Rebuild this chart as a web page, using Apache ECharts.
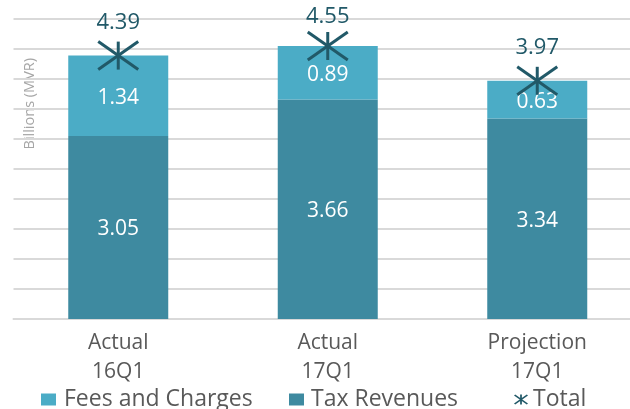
<!DOCTYPE html>
<html><head><meta charset="utf-8">
<script src="https://cdn.jsdelivr.net/npm/echarts@6/dist/echarts.min.js"></script>
<style>html,body{margin:0;padding:0;background:#fff}#c{width:630px;height:409px}</style>
</head><body><div id="c"></div>
<script>
const categories = ['Actual\n16Q1', 'Actual\n17Q1', 'Projection\n17Q1'];
const feesAndCharges = [1.34, 0.89, 0.63];
const taxRevenues = [3.05, 3.66, 3.34];
const totals = [4.39, 4.55, 3.97];

const FONT = 'Open Sans';
const C_FEES = '#4BACC6';
const C_TAX = '#3E8AA0';
const C_TOTAL = '#215968';
const starIcon = 'path://M17.5,0 L22.5,0 L22.5,28 L17.5,28 Z M0,2.5 L3.5,0 L40,25.5 L36.5,28 Z M36.5,0 L40,2.5 L3.5,28 L0,25.5 Z';
const squareIcon = 'path://M0,0 L15,0 L15,12 L0,12 Z';

const chart = echarts.init(document.getElementById('c'), null, {renderer: 'canvas'});
const legendBase = {
  top: 388, padding: 0, itemGap: 0, symbolKeepAspect: true,
  textStyle: {fontFamily: FONT, fontSize: 23, color: '#595959'}
};
chart.setOption({
  animation: false,
  textStyle: {fontFamily: FONT},
  grid: {left: 13.5, width: 628.5, top: 19, bottom: 90, containLabel: false, outerBoundsMode: 'none'},
  legend: [
    Object.assign({}, legendBase, {left: 41, itemWidth: 21, itemHeight: 12, data: [{name: 'Fees and Charges', icon: squareIcon}]}),
    Object.assign({}, legendBase, {left: 289, itemWidth: 19, itemHeight: 12, data: [{name: 'Tax Revenues', icon: squareIcon}]}),
    Object.assign({}, legendBase, {left: 514, itemWidth: 14, itemHeight: 10, data: [{name: 'Total', icon: starIcon}]})
  ],
  xAxis: {
    type: 'category', data: categories,
    axisLine: {lineStyle: {color: '#D9D9D9', width: 2}},
    axisTick: {show: false},
    axisLabel: {fontFamily: FONT, fontSize: 21, color: '#595959', lineHeight: 29, margin: 10}
  },
  yAxis: {
    type: 'value', min: 0, max: 5, interval: 0.5,
    axisLabel: {show: false}, axisLine: {show: false}, axisTick: {show: false},
    splitLine: {lineStyle: {color: '#D9D9D9', width: 2}}
  },
  graphic: [{
    type: 'text', left: 22, top: 58, rotation: Math.PI / 2,
    style: {text: 'Billions (MVR)', fontFamily: FONT, fontSize: 14.5, fill: '#A6A6A6'}
  }],
  series: [
    {
      name: 'Tax Revenues', type: 'bar', stack: 'a', barWidth: 100, data: taxRevenues,
      itemStyle: {color: C_TAX},
      label: {show: true, position: 'inside', offset: [0, 2], color: '#fff', fontFamily: FONT, fontSize: 21,
        formatter: p => p.value.toFixed(2)}
    },
    {
      name: 'Fees and Charges', type: 'bar', stack: 'a', barWidth: 100, data: feesAndCharges,
      itemStyle: {color: C_FEES},
      label: {show: true, position: 'inside', offset: [0, 2], color: '#fff', fontFamily: FONT, fontSize: 21,
        formatter: p => p.value.toFixed(2)}
    },
    {
      name: 'Total', type: 'custom', data: totals.map((v, i) => [i, v]),
      itemStyle: {color: C_TOTAL},
      z: 5,
      renderItem: function (params, api) {
        const p = api.coord([api.value(0), api.value(1)]);
        const hw = 20, hh = 14;
        const st = {stroke: C_TOTAL, lineWidth: 3};
        return {
          type: 'group',
          children: [
            {type: 'line', shape: {x1: p[0], y1: p[1] - hh, x2: p[0], y2: p[1] + hh}, style: st},
            {type: 'line', shape: {x1: p[0] - hw, y1: p[1] - hh, x2: p[0] + hw, y2: p[1] + hh}, style: st},
            {type: 'line', shape: {x1: p[0] - hw, y1: p[1] + hh, x2: p[0] + hw, y2: p[1] - hh}, style: st},
            {type: 'text', x: p[0], y: Math.max(p[1] - 33, 17),
              style: {text: api.value(1).toFixed(2), fill: C_TOTAL, fontFamily: FONT, fontSize: 22,
                align: 'center', verticalAlign: 'middle'}}
          ]
        };
      }
    }
  ]
});
</script></body></html>
